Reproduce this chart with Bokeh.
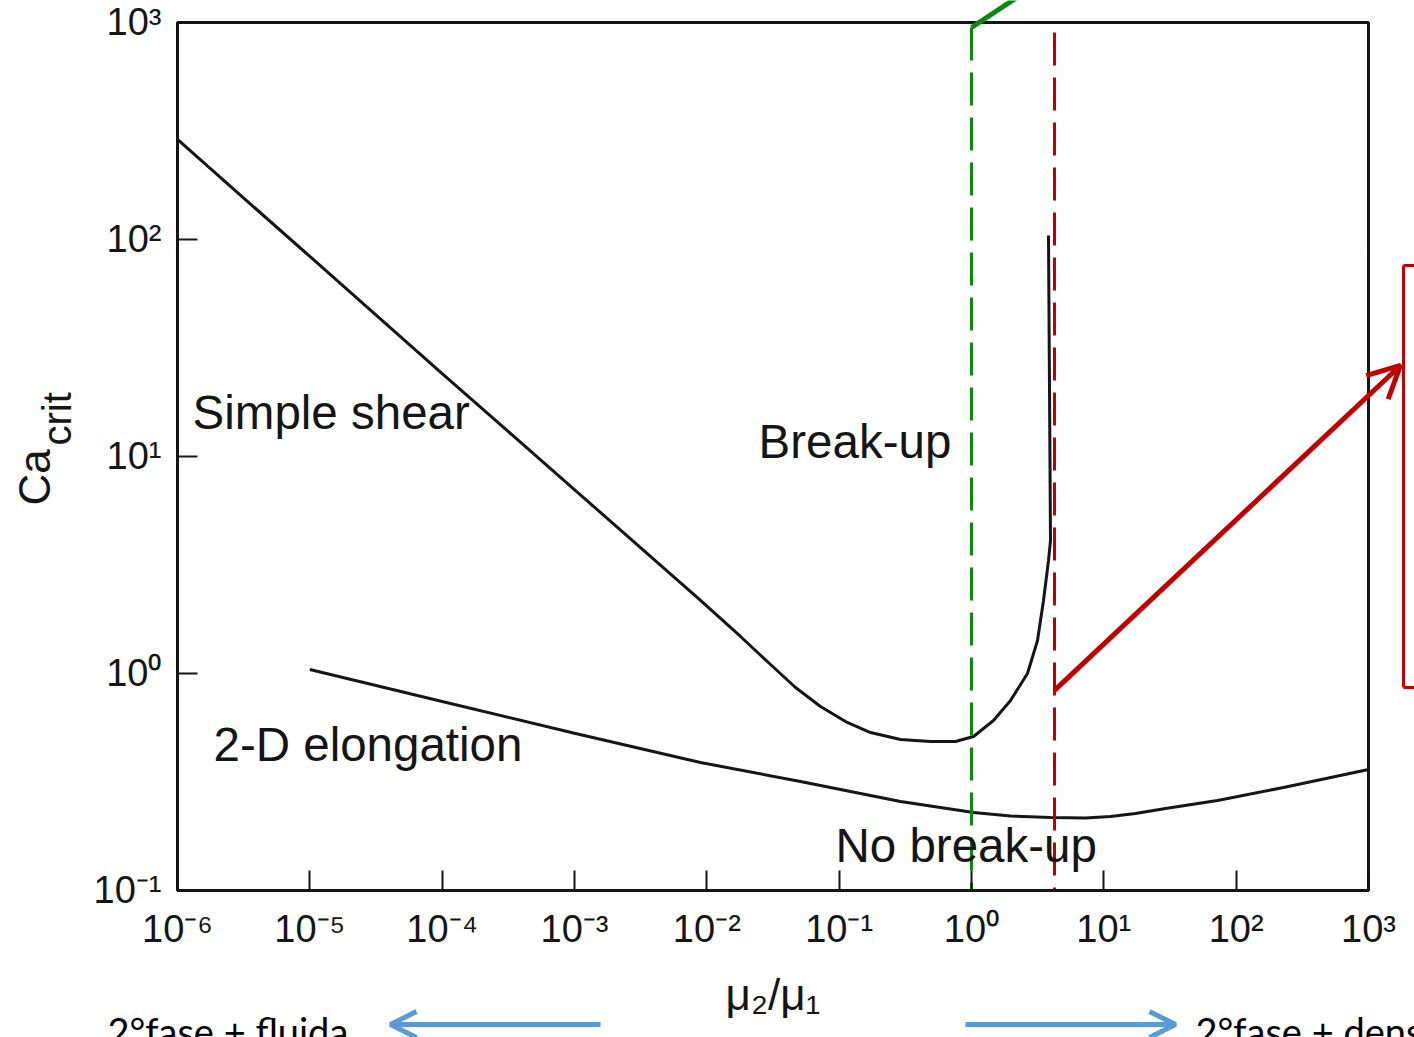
from bokeh.plotting import figure
from bokeh.models import (Range1d, FixedTicker, CustomJSTickFormatter, Label,
                          Arrow, OpenHead, LogAxis)
from bokeh.embed import file_html
from bokeh.resources import INLINE

# ---------------- data ----------------
# viscosity ratio mu2/mu1 and critical capillary number - simple shear curve
shear_ratio = [1e-6, 1e-5, 1e-4, 1.018e-3, 8.96e-3, 0.01797, 0.03029, 0.04679,
               0.07227, 0.1117, 0.1726, 0.2909, 0.4902, 0.7572, 1.036, 1.467,
               1.972, 2.650, 3.154, 3.501, 3.819, 3.954, 3.819]
shear_ca = [289.0, 83.5, 24.1, 6.97, 2.17, 1.481, 1.100, 0.862,
            0.7046, 0.6008, 0.5346, 0.4966, 0.4860, 0.4860, 0.5126, 0.6075,
            0.7508, 1.0, 1.419, 2.170, 3.317, 4.102, 104.3]

# 2-D elongation curve
elong_ratio = [1e-5, 1e-4, 1.018e-3, 8.96e-3, 0.05105, 0.2909, 1.036, 1.972,
               3.954, 7.272, 11.23, 17.36, 29.25, 72.3, 228.0, 1000.0]
elong_ca = [1.043, 0.743, 0.5292, 0.3890, 0.3178, 0.2571, 0.2288, 0.2205,
            0.2170, 0.2158, 0.2193, 0.2263, 0.2387, 0.2599, 0.2984, 0.3610]

# reference viscosity ratios (dashed markers)
green_ratio = 1.0
red_ratio = 4.24

# chart limits
x_limits = [1e-6, 1e3]
y_limits = [1e-1, 1e3]

x_ticks = [1e-6, 1e-5, 1e-4, 1e-3, 1e-2, 1e-1, 1e0, 1e1, 1e2, 1e3]
x_tick_labels = ["10⁻⁶", "10⁻⁵", "10⁻⁴", "10⁻³", "10⁻²", "10⁻¹",
                 "10⁰", "10¹", "10²", "10³"]
y_ticks = [1e-1, 1e0, 1e1, 1e2, 1e3]
y_tick_labels = ["10⁻¹", "10⁰", "10¹", "10²", "10³"]

region_labels = ["Simple shear", "Break-up", "2-D elongation", "No break-up"]
region_x = [1.30e-6, 0.0246, 1.87e-6, 0.0938]
region_y = [15.95, 11.72, 0.471, 0.161]

# ---------------- figure ----------------
FONT = "Liberation Sans"
INK = "#151515"
GREEN = "#0a8a0a"
RED = "#c00000"
BLUE = "#5b9bd5"

# the frame spans the whole canvas so that marks outside the chart box show
p = figure(width=1414, height=1037, x_axis_type="log", y_axis_type="log",
           x_axis_location=None, y_axis_location=None,
           x_range=Range1d(10 ** -7.33757, 10 ** 3.34776),
           y_range=Range1d(10 ** -1.67742, 10 ** 3.10138),
           output_backend="svg", toolbar_location=None,
           min_border_left=0, min_border_right=0,
           min_border_top=0, min_border_bottom=0)
p.grid.visible = False
p.background_fill_color = "white"
p.border_fill_color = "white"
p.outline_line_color = None

tick_code = """
let best = 0, bd = Infinity;
for (let i = 0; i < tv.length; i++) {
  const d = Math.abs(Math.log10(tv[i]) - Math.log10(tick));
  if (d < bd) { bd = d; best = i; }
}
return tl[best];
"""
xa = LogAxis(fixed_location=y_limits[0], bounds=(x_limits[0], x_limits[1]),
             ticker=FixedTicker(ticks=x_ticks),
             formatter=CustomJSTickFormatter(args=dict(tv=x_ticks, tl=x_tick_labels), code=tick_code))
ya = LogAxis(fixed_location=x_limits[0], bounds=(y_limits[0], y_limits[1]),
             ticker=FixedTicker(ticks=y_ticks),
             formatter=CustomJSTickFormatter(args=dict(tv=y_ticks, tl=y_tick_labels), code=tick_code))
for ax in (xa, ya):
    ax.axis_line_color = INK
    ax.axis_line_width = 3
    ax.major_tick_line_color = INK
    ax.major_tick_line_width = 2
    ax.major_tick_in = 20
    ax.major_tick_out = 0
    ax.minor_tick_line_color = None
    ax.major_label_text_font = FONT
    ax.major_label_text_font_size = "38px"
    ax.major_label_text_color = INK
xa.major_label_standoff = 18
ya.major_label_standoff = 16
xa.axis_label = "μ₂/μ₁"
xa.axis_label_text_font = FONT
xa.axis_label_text_font_size = "44px"
xa.axis_label_text_font_style = "normal"
xa.axis_label_text_color = INK
xa.axis_label_standoff = 16
p.add_layout(xa, "below")
p.add_layout(ya, "left")

# chart box
p.quad(left=[x_limits[0]], right=[x_limits[1]], bottom=[y_limits[0]], top=[y_limits[1]],
       fill_color=None, line_color=INK, line_width=3)

# curves
p.line(shear_ratio, shear_ca, line_color=INK, line_width=3)
p.line(elong_ratio, elong_ca, line_color=INK, line_width=3)

# dashed reference lines
p.segment(x0=[green_ratio], y0=[948.0], x1=[green_ratio], y1=[y_limits[0]],
          line_color=GREEN, line_width=3, line_dash="33 12")
p.segment(x0=[red_ratio], y0=[900.0], x1=[red_ratio], y1=[y_limits[0]],
          line_color=RED, line_width=3, line_dash="33 12")

# region labels
for t, x, y in zip(region_labels, region_x, region_y):
    p.add_layout(Label(x=x, y=y, text=t, text_font=FONT, text_font_size="47.5px",
                       text_color=INK, text_align="left", text_baseline="alphabetic"))

# y axis title Ca_crit (rotated)
p.add_layout(Label(x=8.30e-8, y=5.945, text="Ca", text_font=FONT, text_font_size="44px",
                   text_color=INK, angle=1.5708, text_align="left", text_baseline="alphabetic"))
p.add_layout(Label(x=1.218e-7, y=11.24, text="crit", text_font=FONT, text_font_size="40px",
                   text_color=INK, angle=1.5708, text_align="left", text_baseline="alphabetic"))

# green solid line leaving the top of the chart
p.add_layout(Arrow(x_start=green_ratio, y_start=948.0, x_end=2.793, y_end=1435.0,
                   start=None, end=None, line_color=GREEN, line_width=5))

# red arrow and bracket
p.add_layout(Arrow(x_start=red_ratio, y_start=0.836, x_end=1746.0, y_end=26.27,
                   start=None, end=OpenHead(size=32, line_color=RED, line_width=5),
                   line_color=RED, line_width=5))
for xs, ys, xe, ye in [(1839.0, 75.9, 1839.0, 0.862),
                       (1839.0, 75.9, 2600.0, 75.9),
                       (1839.0, 0.862, 2600.0, 0.862)]:
    p.add_layout(Arrow(x_start=xs, y_start=ys, x_end=xe, y_end=ye, start=None, end=None,
                       line_color=RED, line_width=3))

# blue arrows and notes below the axis
p.add_layout(Arrow(x_start=1.572e-3, y_start=0.02413, x_end=4.07e-5, y_end=0.02413,
                   start=None, end=OpenHead(size=26, line_color=BLUE, line_width=5),
                   line_color=BLUE, line_width=5))
p.add_layout(Arrow(x_start=0.901, y_start=0.02413, x_end=34.8, y_end=0.02413,
                   start=None, end=OpenHead(size=26, line_color=BLUE, line_width=5),
                   line_color=BLUE, line_width=5))
p.add_layout(Label(x=2.958e-7, y=0.02240, text="2°fase + fluida", text_font="Lato",
                   text_font_size="38px", text_color="black", text_align="left",
                   text_baseline="alphabetic"))
p.add_layout(Label(x=49.3, y=0.02240, text="2°fase + densa", text_font="Lato",
                   text_font_size="38px", text_color="black", text_align="left",
                   text_baseline="alphabetic"))

open("out.html", "w").write(file_html(p, INLINE))
